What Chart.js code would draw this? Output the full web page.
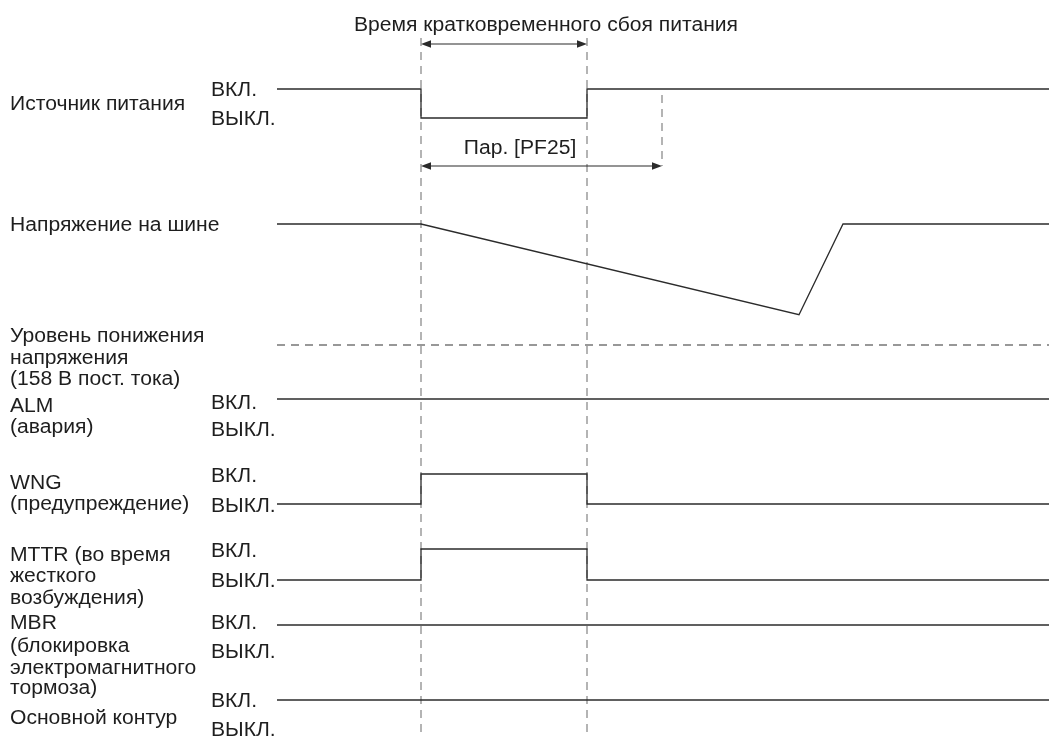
<!DOCTYPE html>
<html>
<head>
<meta charset="utf-8">
<script src="https://cdn.jsdelivr.net/npm/chart.js@4.4.1/dist/chart.umd.min.js"></script>
<style>
    html, body { margin: 0; padding: 0; background: #fff; }
    #wrap { width: 1049px; height: 740px; position: relative; }
</style>
</head>
<body>
<div id="wrap"><canvas id="timingChart"></canvas></div>
<script>
// --- data (time in diagram units, 0 = start of the traces) ---
const eventTimes = [0, 144, 310, 772];        // start, power fail, power back, end
const pf25Time = 385;                         // end of Пар. [PF25]
const busTimes = [0, 144, 522, 566, 772];
const busLevels = [1, 1, 0.25, 1, 1];         // 1 = nominal, 0 = undervoltage level (158 V)
const underLevel = [0, 0];
const underTimes = [0, 772];

const powerLevels = [1, 0, 1, 1];
const almLevels   = [1, 1, 1, 1];
const wngLevels   = [0, 1, 0, 0];
const mttrLevels  = [0, 1, 0, 0];
const mbrLevels   = [1, 1, 1, 1];
const mainLevels  = [1, 1, 1, 1];

const titleText = 'Время кратковременного сбоя питания';
const pf25Text = 'Пар. [PF25]';
const onText = 'ВКЛ.';
const offText = 'ВЫКЛ.';

// --- layout (rows in diagram y units, 0 at top) ---
const rows = {
    power: { on: 89, off: 118 },
    alm:   { on: 399, off: 428 },
    wng:   { on: 474, off: 504 },
    mttr:  { on: 549, off: 580 },
    mbr:   { on: 625, off: 652 },
    main:  { on: 700, off: 729 }
};
const bus = { nominal: 224, under: 345 };
const labelX = -267, stateX = -66;

const leftLabels = [
    ['Источник питания', 103],
    ['Напряжение на шине', 224],
    ['Уровень понижения', 335], ['напряжения', 357], ['(158 В пост. тока)', 378],
    ['ALM', 405], ['(авария)', 426],
    ['WNG', 482], ['(предупреждение)', 503],
    ['MTTR (во время', 554], ['жесткого', 575], ['возбуждения)', 597],
    ['MBR', 622], ['(блокировка', 645], ['электромагнитного', 667], ['тормоза)', 687],
    ['Основной контур', 717]
];
const stateLabels = [
    [onText, 89], [offText, 118],
    [onText, 402], [offText, 429],
    [onText, 475], [offText, 505],
    [onText, 550], [offText, 580],
    [onText, 622], [offText, 651],
    [onText, 700], [offText, 729]
];

const lineColor = '#2b2b2b';
const dashColor = '#777777';
const textColor = '#1e1e1e';
const fontFamily = '"Liberation Sans", Arial, sans-serif';
const fontSize = 19.5;

function signal(levels, row) {
    return {
        data: eventTimes.map((t, i) => ({ x: t, y: levels[i] ? row.on : row.off })),
        borderColor: lineColor, borderWidth: 1.3, stepped: true, pointRadius: 0, clip: false
    };
}

function marker(t, y0, y1) {
    return {
        data: [{ x: t, y: y0 }, { x: t, y: y1 }],
        borderColor: dashColor, borderWidth: 1.1, borderDash: [8, 6], pointRadius: 0, clip: false
    };
}

const datasets = [
    signal(powerLevels, rows.power),
    {
        data: busTimes.map((t, i) => ({ x: t, y: bus.under - busLevels[i] * (bus.under - bus.nominal) })),
        borderColor: lineColor, borderWidth: 1.3, pointRadius: 0, clip: false
    },
    {
        data: underTimes.map((t, i) => ({ x: t, y: bus.under - underLevel[i] * (bus.under - bus.nominal) })),
        borderColor: '#333333', borderWidth: 1.1, borderDash: [8, 6], pointRadius: 0, clip: false
    },
    signal(almLevels, rows.alm),
    signal(wngLevels, rows.wng),
    signal(mttrLevels, rows.mttr),
    signal(mbrLevels, rows.mbr),
    signal(mainLevels, rows.main),
    marker(eventTimes[1], 38, 737),
    marker(eventTimes[2], 38, 737),
    marker(pf25Time, 95, 166)
];

// text and dimension arrows
const timingText = {
    id: 'timingText',
    afterDatasetsDraw(chart) {
        const ctx = chart.ctx;
        const xs = chart.scales.x, ys = chart.scales.y;
        ctx.save();
        ctx.font = fontSize + 'px ' + fontFamily;
        const sx = Math.min(1.25, Math.max(0.75, 384 / ctx.measureText(titleText).width));

        function text(str, x, yc, align) {
            ctx.save();
            ctx.translate(x, yc + 7);
            ctx.scale(sx, 1);
            ctx.textAlign = align || 'left';
            ctx.textBaseline = 'alphabetic';
            ctx.fillStyle = textColor;
            ctx.fillText(str, 0, 0);
            ctx.restore();
        }

        function arrow(t0, t1, y) {
            const x0 = xs.getPixelForValue(t0), x1 = xs.getPixelForValue(t1), py = ys.getPixelForValue(y);
            ctx.strokeStyle = lineColor;
            ctx.fillStyle = lineColor;
            ctx.lineWidth = 1.2;
            ctx.beginPath();
            ctx.moveTo(x0 + 4, py);
            ctx.lineTo(x1 - 4, py);
            ctx.stroke();
            ctx.beginPath();
            ctx.moveTo(x0, py); ctx.lineTo(x0 + 10, py - 3.8); ctx.lineTo(x0 + 10, py + 3.8); ctx.closePath();
            ctx.fill();
            ctx.beginPath();
            ctx.moveTo(x1, py); ctx.lineTo(x1 - 10, py - 3.8); ctx.lineTo(x1 - 10, py + 3.8); ctx.closePath();
            ctx.fill();
        }

        arrow(eventTimes[1], eventTimes[2], 44);
        arrow(eventTimes[1], pf25Time, 166);

        text(titleText, xs.getPixelForValue(269), ys.getPixelForValue(24), 'center');
        text(pf25Text, xs.getPixelForValue(243), ys.getPixelForValue(147), 'center');

        leftLabels.forEach(([str, y]) => text(str, xs.getPixelForValue(labelX), ys.getPixelForValue(y)));
        stateLabels.forEach(([str, y]) => text(str, xs.getPixelForValue(stateX), ys.getPixelForValue(y)));
        ctx.restore();
    }
};

new Chart(document.getElementById('timingChart').getContext('2d'), {
    type: 'line',
    data: { datasets: datasets },
    options: {
        responsive: true,
        maintainAspectRatio: false,
        animation: false,
        layout: { padding: 0 },
        plugins: { legend: { display: false }, tooltip: { enabled: false } },
        scales: {
            x: { type: 'linear', min: -277, max: 772, display: false },
            y: { type: 'linear', min: 0, max: 740, reverse: true, display: false }
        }
    },
    plugins: [timingText]
});
</script>
</body>
</html>
